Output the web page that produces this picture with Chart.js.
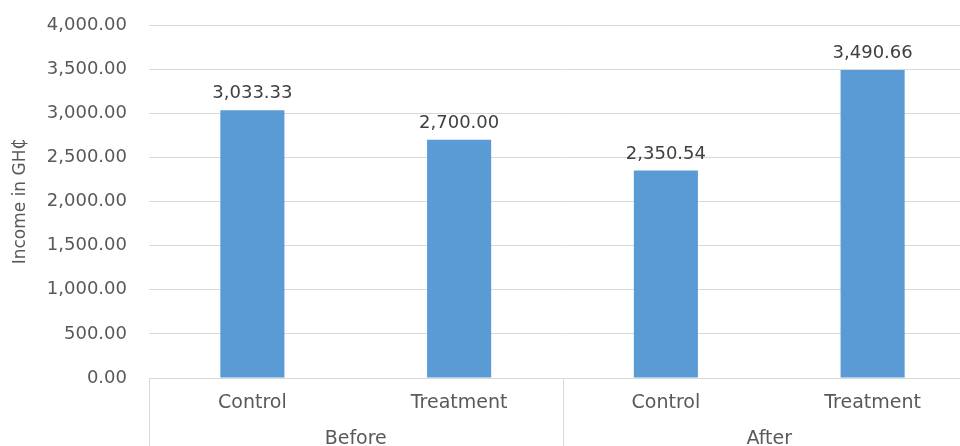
<!DOCTYPE html>
<html><head><meta charset="utf-8">
<script src="https://cdn.jsdelivr.net/npm/chart.js@4"></script>
<style>
html,body{margin:0;padding:0;overflow:hidden;background:#fff;width:960px;height:446px}
#wrap{position:absolute;left:0;top:0;width:976px;height:462px}
</style></head><body>
<div id="wrap"><canvas id="c"></canvas></div>
<script>
const groups = ['Before', 'After'];
const categories = ['Control', 'Treatment', 'Control', 'Treatment'];
const incomes = [3033.33, 2700.00, 2350.54, 3490.66];
const yTicks = [0, 500, 1000, 1500, 2000, 2500, 3000, 3500, 4000];
const yTitle = 'Income in GH₵';

const FONT = 'DejaVu Sans';
const TXT = '#595959';
const GRID = '#d9d9d9';
const fmt = v => v.toLocaleString('en-US', {minimumFractionDigits: 2, maximumFractionDigits: 2});

const valueLabels = {
  id: 'valueLabels',
  afterDatasetsDraw(chart) {
    const ctx = chart.ctx;
    const meta = chart.getDatasetMeta(0);
    ctx.save();
    ctx.font = '18px "' + FONT + '"';
    ctx.fillStyle = '#404040';
    ctx.textAlign = 'center';
    ctx.textBaseline = 'alphabetic';
    meta.data.forEach((bar, i) => {
      ctx.fillText(fmt(incomes[i]), bar.x, bar.y - 12);
    });
    ctx.restore();
  }
};

const groupLines = {
  id: 'groupLines',
  afterDraw(chart) {
    const s = chart.scales.x2;
    const ctx = chart.ctx;
    const step = s.getPixelForValue(1) - s.getPixelForValue(0);
    const xs = [];
    for (let i = 0; i <= groups.length; i++) xs.push(s.getPixelForValue(0) - step / 2 + i * step);
    ctx.save();
    ctx.strokeStyle = GRID;
    ctx.lineWidth = 1;
    xs.forEach(x => {
      const px = Math.round(x) + 0.5;
      ctx.beginPath();
      ctx.moveTo(px, chart.chartArea.bottom);
      ctx.lineTo(px, chart.height);
      ctx.stroke();
    });
    ctx.restore();
  }
};

new Chart(document.getElementById('c'), {
  type: 'bar',
  data: {
    labels: categories,
    datasets: [{
      data: incomes,
      backgroundColor: '#5b9bd5',
      borderWidth: 0,
      barPercentage: 0.31,
      categoryPercentage: 1
    }]
  },
  options: {
    responsive: true,
    maintainAspectRatio: false,
    animation: false,
    layout: {padding: {top: 25, right: 0, bottom: 0, left: 0}},
    plugins: {legend: {display: false}, tooltip: {enabled: false}},
    scales: {
      y: {
        min: 0, max: 4000,
        afterBuildTicks: s => { s.ticks = yTicks.map(v => ({value: v})); },
        afterFit: s => { s.width = 149; s.paddingTop = 0; s.paddingBottom = 0; },
        border: {display: false},
        grid: {color: GRID, drawTicks: false},
        ticks: {
          padding: 22,
          color: TXT,
          font: {family: FONT, size: 18},
          callback: v => fmt(v)
        },
        title: {
          display: true, text: yTitle, color: TXT,
          font: {family: FONT, size: 17},
          padding: {top: 10, bottom: 0}
        }
      },
      x: {
        position: 'bottom',
        afterFit: s => { s.height = 42; s.paddingLeft = 0; s.paddingRight = 0; },
        border: {display: true, color: GRID},
        grid: {display: false, drawTicks: false},
        ticks: {padding: 14, color: TXT, font: {family: FONT, size: 19}, maxRotation: 0}
      },
      x2: {
        type: 'category',
        position: 'bottom',
        labels: groups,
        offset: true,
        afterFit: s => { s.height = 42; s.paddingLeft = 0; s.paddingRight = 0; },
        border: {display: false},
        grid: {display: false, drawTicks: false},
        ticks: {padding: 8, color: TXT, font: {family: FONT, size: 19}, maxRotation: 0}
      }
    }
  },
  plugins: [valueLabels, groupLines]
});
</script>
</body></html>
